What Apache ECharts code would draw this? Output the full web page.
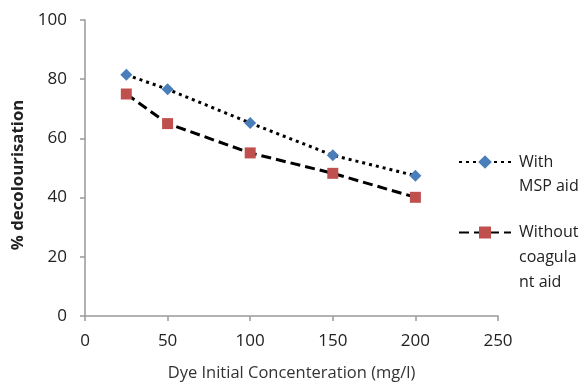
<!DOCTYPE html>
<html><head><meta charset="utf-8">
<script src="https://cdn.jsdelivr.net/npm/echarts@6/dist/echarts.min.js"></script>
<style>html,body{margin:0;padding:0;background:#fff}#c{width:588px;height:387px}</style>
</head><body><div id="c"></div>
<script>
var concentrations = [25, 50, 100, 150, 200];
var withMSP = [81.5, 76.6, 65.2, 54.3, 47.4];
var withoutAid = [75.0, 65.0, 55.1, 48.2, 40.1];
var seriesNames = ['With\nMSP aid', 'Without\ncoagula\nnt aid'];
var xTicks = [0, 50, 100, 150, 200, 250];
var yTicks = [0, 20, 40, 60, 80, 100];

var font = '"Open Sans", "Noto Sans", sans-serif';
var chart = echarts.init(document.getElementById('c'));
function pairs(xs, ys){ return xs.map(function(x,i){return [x, ys[i]];}); }
chart.setOption({
  backgroundColor: '#fff',
  animation: false,
  textStyle: {fontFamily: font},
  grid: {left: 85, right: 90, top: 20, bottom: 68, containLabel: false},
  xAxis: {
    type: 'value', min: xTicks[0], max: xTicks[xTicks.length-1], interval: 50,
    name: 'Dye Initial Concenteration (mg/l)', nameLocation: 'middle', nameGap: 49,
    nameTextStyle: {fontSize: 16.5, color: '#333', fontFamily: font},
    axisLine: {show: true, lineStyle: {color: '#999', width: 1.5}},
    axisTick: {show: true, length: 5, lineStyle: {color: '#999', width: 1.5}},
    axisLabel: {fontSize: 17, color: '#222', margin: 17, fontFamily: font},
    splitLine: {show: false}
  },
  yAxis: {
    type: 'value', min: yTicks[0], max: yTicks[yTicks.length-1], interval: 20,
    name: '% decolourisation', nameLocation: 'middle', nameGap: 55,
    nameTextStyle: {fontSize: 16.8, fontWeight: 'bold', color: '#222', fontFamily: font, padding: [0, 14, 0, 0]},
    axisLine: {show: true, lineStyle: {color: '#999', width: 1.5}},
    axisTick: {show: true, length: 5, lineStyle: {color: '#999', width: 1.5}},
    axisLabel: {fontSize: 17, color: '#222', margin: 18, fontFamily: font},
    splitLine: {show: false}
  },
  legend: [
    {data: [seriesNames[0]], orient: 'vertical', left: 458, top: 126, padding: 0, itemWidth: 52, itemHeight: 17,
     formatter: function(n){ return '\n' + n; },
     textStyle: {fontSize: 16, color: '#222', lineHeight: 24, fontFamily: font, padding: [0,0,0,3]}},
    {data: [seriesNames[1]], orient: 'vertical', left: 458, top: 170, padding: 0, itemWidth: 52, itemHeight: 15,
     formatter: function(n){ return '\n\n' + n; },
     textStyle: {fontSize: 16, color: '#222', lineHeight: 25, fontFamily: font, padding: [0,0,0,3]}}
  ],
  series: [
    {name: seriesNames[0], type: 'line', data: pairs(concentrations, withMSP),
     symbol: 'diamond', symbolSize: 12,
     itemStyle: {color: '#4a7ebb'},
     lineStyle: {color: '#000', width: 3, type: [3, 4]}},
    {name: seriesNames[1], type: 'line', data: pairs(concentrations, withoutAid),
     symbol: 'rect', symbolSize: 11,
     itemStyle: {color: '#c0504d'},
     lineStyle: {color: '#000', width: 3, type: [10, 5]}}
  ]
});
</script></body></html>
